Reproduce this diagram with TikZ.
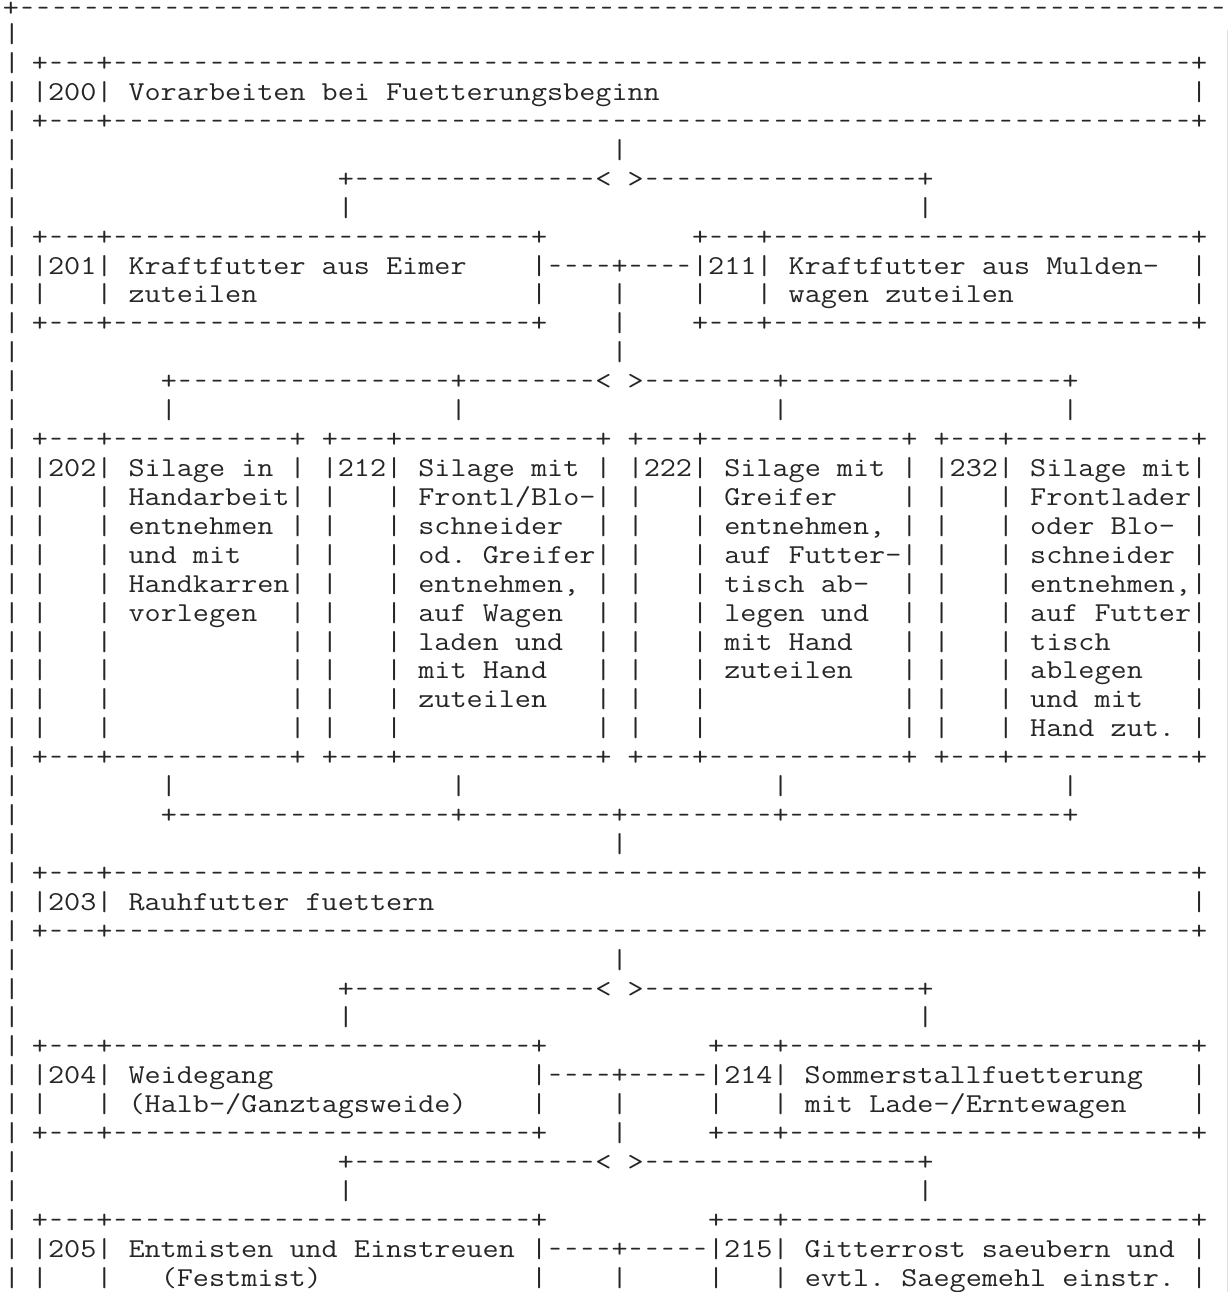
\documentclass[tikz,border=0pt]{standalone}
\usepackage{graphicx}

% width of one character cell of the typewriter face, before stretching
\newlength\cellw

% runs of hyphens, each one shortened inside its own cell
\ExplSyntaxOn
\cs_new:Npn \dsh #1
  { \prg_replicate:nn {#1} { \makebox[\cellw][c]{\scalebox{0.72}[1]{-}} } }
\ExplSyntaxOff

% one character cell: 16.1 wide, one line: 28.92 high
\newcounter{ascn}
\newcommand\asc[3]{%
  \stepcounter{ascn}%
  \node[asc] (a\arabic{ascn}) at ({31.95+16.1*(#1)},{71.6+28.92*(#2)})
    {\scalebox{\ascx}[1]{#3}};}

\newcommand\ascfont{\ttfamily\fontsize{27.3}{28}\selectfont\frenchspacing}

\tikzset{
  asc/.style={anchor=base west, inner sep=0pt, outer sep=0pt,
    text=black!85, font=\ascfont}
}

\begin{document}
\settowidth\cellw{\ascfont M}
\pgfmathsetmacro\ascx{16.1/\cellw}
\begin{tikzpicture}[x=1pt,y=-1pt]
\useasboundingbox (0,0) rectangle (1231,1292);
\fill[white] (0,0) rectangle (1231,1292);

% page frame: top rule and left edge
\asc{-1.8}{-1.9}{+\dsh{75}}
\foreach \r in {-1,...,42} {\asc{-1.75}{\r}{|}}
\draw[black!12, line width=1pt] (1227,30) -- (1227,1292);

% 200
\asc{0}{0}{+\dsh3+\dsh{67}+}
\asc{0}{1}{|200| Vorarbeiten bei Fuetterungsbeginn}
\asc{72}{1}{|}
\asc{0}{2}{+\dsh3+\dsh{67}+}
\asc{36}{3}{|}
\asc{19}{4}{+\dsh{15}<\ >\dsh{17}+}
\asc{19}{5}{|} \asc{55}{5}{|}

% 201 / 211
\asc{0}{6}{+\dsh3+\dsh{26}+}
\asc{41}{6}{+\dsh3+\dsh{26}+}
\asc{0}{7}{|201| Kraftfutter aus Eimer}
\asc{31}{7}{|\dsh4+\dsh4|211| Kraftfutter aus Mulden-}
\asc{72}{7}{|}
\asc{0}{8}{|} \asc{4}{8}{| zuteilen}
\asc{31}{8}{|} \asc{36}{8}{|} \asc{41}{8}{|}
\asc{45}{8}{| wagen zuteilen} \asc{72}{8}{|}
\asc{0}{9}{+\dsh3+\dsh{26}+}
\asc{36}{9}{|}
\asc{41}{9}{+\dsh3+\dsh{26}+}
\asc{36}{10}{|}
\asc{8}{11}{+\dsh{17}+\dsh8<\ >\dsh8+\dsh{17}+}
\foreach \c in {8,26,46,64} {\asc{\c}{12}{|}}

% 202 / 212 / 222 / 232
\foreach \r in {13,24} {
  \asc{0}{\r}{+\dsh3+\dsh{11}+}
  \asc{18}{\r}{+\dsh3+\dsh{12}+}
  \asc{37}{\r}{+\dsh3+\dsh{12}+}
  \asc{56}{\r}{+\dsh3+\dsh{11}+}
}
\foreach \r in {14,...,23} {
  \foreach \c in {0,4,16,18,22,35,37,41,54,56,60,72} {\asc{\c}{\r}{|}}
}
\asc{1}{14}{202} \asc{19}{14}{212} \asc{38}{14}{222} \asc{57}{14}{232}

\asc{6}{14}{Silage in}
\asc{6}{15}{Handarbeit}
\asc{6}{16}{entnehmen}
\asc{6}{17}{und mit}
\asc{6}{18}{Handkarren}
\asc{6}{19}{vorlegen}

\asc{24}{14}{Silage mit}
\asc{24}{15}{Frontl/Blo-}
\asc{24}{16}{schneider}
\asc{24}{17}{od. Greifer}
\asc{24}{18}{entnehmen,}
\asc{24}{19}{auf Wagen}
\asc{24}{20}{laden und}
\asc{24}{21}{mit Hand}
\asc{24}{22}{zuteilen}

\asc{43}{14}{Silage mit}
\asc{43}{15}{Greifer}
\asc{43}{16}{entnehmen,}
\asc{43}{17}{auf Futter-}
\asc{43}{18}{tisch ab-}
\asc{43}{19}{legen und}
\asc{43}{20}{mit Hand}
\asc{43}{21}{zuteilen}

\asc{62}{14}{Silage mit}
\asc{62}{15}{Frontlader}
\asc{62}{16}{oder Blo-}
\asc{62}{17}{schneider}
\asc{62}{18}{entnehmen,}
\asc{62}{19}{auf Futter}
\asc{62}{20}{tisch}
\asc{62}{21}{ablegen}
\asc{62}{22}{und mit}
\asc{62}{23}{Hand zut.}

\foreach \c in {8,26,46,64} {\asc{\c}{25}{|}}
\asc{8}{26}{+\dsh{17}+\dsh9+\dsh9+\dsh{17}+}
\asc{36}{27}{|}

% 203
\asc{0}{28}{+\dsh3+\dsh{67}+}
\asc{0}{29}{|203| Rauhfutter fuettern}
\asc{72}{29}{|}
\asc{0}{30}{+\dsh3+\dsh{67}+}
\asc{36}{31}{|}
\asc{19}{32}{+\dsh{15}<\ >\dsh{17}+}
\asc{19}{33}{|} \asc{55}{33}{|}

% 204 / 214
\asc{0}{34}{+\dsh3+\dsh{26}+}
\asc{42}{34}{+\dsh3+\dsh{25}+}
\asc{0}{35}{|204| Weidegang}
\asc{31}{35}{|\dsh4+\dsh5|214| Sommerstallfuetterung}
\asc{72}{35}{|}
\asc{0}{36}{|} \asc{4}{36}{| (Halb-/Ganztagsweide)}
\asc{31}{36}{|} \asc{36}{36}{|} \asc{42}{36}{|}
\asc{46}{36}{| mit Lade-/Erntewagen} \asc{72}{36}{|}
\asc{0}{37}{+\dsh3+\dsh{26}+}
\asc{36}{37}{|}
\asc{42}{37}{+\dsh3+\dsh{25}+}
\asc{19}{38}{+\dsh{15}<\ >\dsh{17}+}
\asc{19}{39}{|} \asc{55}{39}{|}

% 205 / 215
\asc{0}{40}{+\dsh3+\dsh{26}+}
\asc{42}{40}{+\dsh3+\dsh{25}+}
\asc{0}{41}{|205| Entmisten und Einstreuen |\dsh4+\dsh5|215| Gitterrost saeubern und |}
\asc{0}{42}{|} \asc{4}{42}{|} \asc{8}{42}{(Festmist)}
\asc{31}{42}{|} \asc{36}{42}{|} \asc{42}{42}{|}
\asc{46}{42}{| evtl. Saegemehl einstr. |}
\end{tikzpicture}
\end{document}
